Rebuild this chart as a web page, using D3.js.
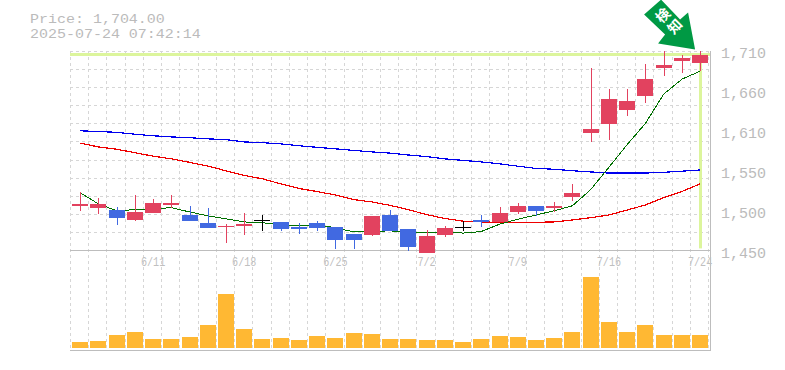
<!DOCTYPE html>
<html>
<head>
<meta charset="utf-8">
<script src="https://cdn.jsdelivr.net/npm/d3@7"></script>
<style>
  html, body { margin: 0; padding: 0; background: #fff; }
  svg { display: block; }
  text { font-family: "Liberation Mono", "DejaVu Sans Mono", monospace; }
</style>
</head>
<body>
<div id="chart-container"></div>
<script>
// daily data
const dates = ['6/5','6/6','6/9','6/10','6/11','6/12','6/13','6/16','6/17','6/18','6/19','6/20','6/23','6/24','6/25','6/26','6/27','6/30','7/1','7/2','7/3','7/4','7/7','7/8','7/9','7/10','7/11','7/14','7/15','7/16','7/17','7/18','7/22','7/23','7/24'];
const opens = [1507.5,1505,1502.5,1489,1498.5,1509,1495.5,1485.5,1480,1481.5,1488.5,1486.5,1480,1485.5,1480,1471,1469.5,1495.5,1477.5,1446,1469.5,1480.5,1489,1486.5,1499.5,1507.5,1505,1519,1601.5,1613.5,1631.5,1650,1686.5,1695.5,1693];
const highs = [1526,1518,1506,1522,1516.5,1522,1507.5,1505,1484,1498.5,1495.5,1486.5,1485.5,1488,1480,1471,1494.5,1502.5,1477.5,1476,1481.5,1488,1495.5,1506,1511.5,1507.5,1512.5,1536,1686.5,1659,1659,1691.5,1708.5,1703.5,1708.5];
const lows = [1501,1497,1482.5,1488,1498.5,1505,1488,1479,1459,1469.5,1475,1475,1471,1475,1451.5,1451.5,1468.5,1475,1448.5,1446,1467,1475,1480,1486.5,1497,1494.5,1499.5,1514,1590,1592.5,1624,1641,1676,1680,1682.5];
const closes = [1510,1510,1492,1499.5,1511.5,1511.5,1488,1479,1481.5,1484,1488.5,1477.5,1477.5,1478.5,1463,1463,1494.5,1475,1454,1468.5,1478.5,1480.5,1486.5,1498.5,1507.5,1501,1507.5,1524.5,1607,1646,1643.5,1672,1690.5,1699.5,1704];
const volumes = [6,7,13,16,9,9,11,23,54,19,9,10,8,12,10,15,14,9,9,8,8,6,9,12,11,8,10,16,71,26,16,23,13,13,13];
const maShort = [1524.5,1510,1501,1502.5,1503.5,1505,1499.5,1494.5,1490.5,1486.5,1485.5,1482.5,1482.5,1482.5,1479,1473.5,1474,1475,1472,1472.5,1474,1472,1474,1483.5,1490,1495.5,1501,1507.5,1528.5,1557.5,1587,1614.5,1652.5,1672,1682.5];
const maMid = [1589,1584,1581,1576.5,1572,1568.5,1564,1559,1553,1547,1542.5,1536,1530,1526,1521.5,1515.5,1512.5,1508,1502.5,1496,1491,1487.5,1486.5,1486,1486,1486,1486.5,1489,1492,1495.5,1502,1508.5,1518,1526,1536];
const maLong = [1605,1604,1603,1600.5,1598.5,1597,1596,1594.5,1593.5,1590.5,1589.5,1588,1585.5,1583.5,1581.5,1579.5,1577.5,1576,1573.5,1571.5,1568.5,1566.5,1564.5,1562,1559,1556,1555,1553,1551.5,1550,1550,1550,1551,1552.5,1554];
const priceTicks = [1450,1502,1554,1606,1658,1710];
const dateTicks = ['6/11','6/18','6/25','7/2','7/9','7/16','7/24'];
const titleLines = ['Price: 1,704.00','2025-07-24 07:42:14'];
const alertLabel = ['検','知'];

const width = 785, height = 370;
const left = 70, priceBottom = 250, priceTop = 50, volBottom = 348, plotEnd = 350;
const gridTop = 51, gridRows = 11;

const svg = d3.select('#chart-container').append('svg')
    .attr('width', width)
    .attr('height', height);

const x = d3.scaleBand().domain(d3.range(dates.length)).range([71, 709.2]);
const cx = i => x(i) + x.bandwidth() / 2;
const y = d3.scaleLinear().domain([1450, 1710]).range([priceBottom, priceTop]);
const yVol = d3.scaleLinear().domain([0, 71]).range([volBottom, 277]);
const yGrid = d3.scaleLinear().domain([0, gridRows]).range([priceBottom, gridTop]);
const idx = d3.range(dates.length);

// grid
const grid = svg.append('g').attr('stroke', '#d6d6d6').attr('stroke-dasharray', '3,3').attr('shape-rendering', 'crispEdges');
grid.selectAll('.gh').data(d3.range(1, gridRows + 1)).enter().append('line')
    .attr('x1', left).attr('x2', 710)
    .attr('y1', d => Math.round(yGrid(d)) + 0.5)
    .attr('y2', d => Math.round(yGrid(d)) + 0.5);
grid.selectAll('.gv').data(idx.concat([dates.length])).enter().append('line')
    .attr('x1', d => Math.round(left + d * x.step()) + 0.5)
    .attr('x2', d => Math.round(left + d * x.step()) + 0.5)
    .attr('y1', gridTop).attr('y2', volBottom);

// current price marker
const lastX = cx(dates.length - 1), lastY = y(closes[closes.length - 1]);
svg.append('rect').attr('x', left).attr('y', Math.round(lastY) - 2).attr('width', 640).attr('height', 3).attr('fill', '#dcf59c');
svg.append('rect').attr('x', Math.round(lastX) - 1).attr('y', Math.round(lastY)).attr('width', 3).attr('height', priceBottom - 2 - lastY).attr('fill', '#dcf59c');

// axes frame
const frame = svg.append('g').attr('stroke', '#bdbdbd').attr('stroke-width', 1).attr('shape-rendering', 'crispEdges');
frame.append('line').attr('x1', left).attr('x2', 710).attr('y1', priceBottom + 0.5).attr('y2', priceBottom + 0.5);
frame.append('line').attr('x1', left).attr('x2', 711).attr('y1', plotEnd + 0.5).attr('y2', plotEnd + 0.5);
frame.append('line').attr('x1', 710.5).attr('x2', 710.5).attr('y1', gridTop).attr('y2', plotEnd + 1);

// volume
svg.selectAll('.vol').data(volumes).enter().append('rect')
    .attr('class', 'vol')
    .attr('x', (d, i) => Math.round(cx(i)) - 8)
    .attr('width', 16)
    .attr('y', d => yVol(d))
    .attr('height', d => volBottom - yVol(d))
    .attr('fill', '#ffb833');

// moving averages, behind the candles
const line = d3.line().x((d, i) => cx(i)).y(d => y(d));
const maLines = svg.append('g').attr('fill', 'none').attr('shape-rendering', 'crispEdges');
maLines.append('path').datum(maLong).attr('d', line).attr('stroke', '#0000ee').attr('stroke-width', 1.2);
maLines.append('path').datum(maMid).attr('d', line).attr('stroke', '#ee0000').attr('stroke-width', 1.2);
maLines.append('path').datum(maShort).attr('d', line).attr('stroke', '#007000').attr('stroke-width', 1);

// candles
const candleColor = i => closes[i] > opens[i] ? '#e2425f' : closes[i] < opens[i] ? '#4169e1' : '#000';
const candles = svg.append('g').attr('shape-rendering', 'crispEdges');
candles.selectAll('.wick').data(idx).enter().append('line')
    .attr('x1', i => Math.round(cx(i)) + 0.5)
    .attr('x2', i => Math.round(cx(i)) + 0.5)
    .attr('y1', i => y(highs[i]))
    .attr('y2', i => y(lows[i]))
    .attr('stroke', candleColor);
candles.selectAll('.body').data(idx).enter().append('rect')
    .attr('x', i => Math.round(cx(i)) - 8)
    .attr('width', 16)
    .attr('y', i => y(Math.max(opens[i], closes[i])))
    .attr('height', i => Math.max(1, Math.abs(y(opens[i]) - y(closes[i]))))
    .attr('fill', candleColor);

// tick labels
svg.selectAll('.ptick').data(priceTicks).enter().append('text')
    .attr('x', 721)
    .attr('y', d => y(d) + 8)
    .attr('font-size', 15)
    .attr('fill', '#bbb')
    .text(d => d3.format(',')(Math.round(d / 10) * 10));

svg.selectAll('.dtick').data(dateTicks).enter().append('text')
    .attr('transform', d => `translate(${cx(dates.indexOf(d))},266) scale(0.78,1)`)
    .attr('text-anchor', 'middle')
    .attr('font-size', 13)
    .attr('fill', '#bfbfbf')
    .text(d => d);

svg.selectAll('.title').data(titleLines).enter().append('text')
    .attr('transform', (d, i) => `translate(30,${23 + i * 15}) scale(1.136,1)`)
    .attr('font-size', 13.2)
    .attr('fill', '#bbb')
    .text(d => d);

// alert arrow, tip sits just above the last candle
const arrow = svg.append('g').attr('transform', `translate(${lastX - 5},${lastY - 5})`);
arrow.append('path')
    .attr('d', 'M0,0 L-37,-6 L-30,-15 L-51,-35 L-34,-50 L-15,-30 L-7,-37 Z')
    .attr('fill', '#009944');
arrow.selectAll('.alert').data(alertLabel).enter().append('text')
    .attr('transform', (d, i) => `translate(${-32 + i * 12},${-34 + i * 11}) rotate(-45)`)
    .attr('text-anchor', 'middle')
    .attr('dy', '0.35em')
    .attr('font-size', 14)
    .attr('font-weight', 'bold')
    .attr('fill', '#fff')
    .style('font-family', '"Noto Sans CJK JP"')
    .text(d => d);
</script>
</body>
</html>
